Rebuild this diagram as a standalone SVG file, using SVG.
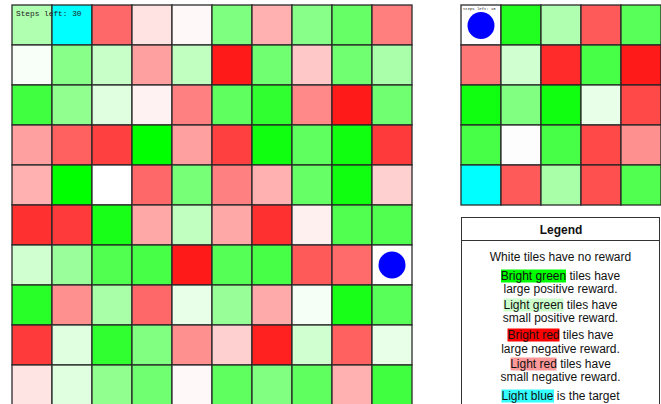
<svg xmlns="http://www.w3.org/2000/svg" width="661" height="404" viewBox="0 0 661 404">
<style>
.c{stroke:#262626;stroke-width:1.4;stroke-opacity:0.9}
.lg{font-family:"Liberation Sans",Arial,sans-serif;font-size:12px;fill:#111;text-anchor:middle}
.steps{font-family:"Liberation Mono","Courier New",monospace;fill:#222}
</style>
<rect width="661" height="404" fill="#fff"/>
<g id="main-grid">
<!-- row 0 -->
<rect class="c" x="12" y="5" width="40" height="40" fill="#b0ffb0"/>
<rect class="c" x="52" y="5" width="40" height="40" fill="#00ffff"/>
<rect class="c" x="92" y="5" width="40" height="40" fill="#ff6868"/>
<rect class="c" x="132" y="5" width="40" height="40" fill="#ffe2e2"/>
<rect class="c" x="172" y="5" width="40" height="40" fill="#fff8f8"/>
<rect class="c" x="212" y="5" width="40" height="40" fill="#7fff7f"/>
<rect class="c" x="252" y="5" width="40" height="40" fill="#ffb0b0"/>
<rect class="c" x="292" y="5" width="40" height="40" fill="#88ff88"/>
<rect class="c" x="332" y="5" width="40" height="40" fill="#66ff66"/>
<rect class="c" x="372" y="5" width="40" height="40" fill="#ff7f7f"/>
<!-- row 1 -->
<rect class="c" x="12" y="45" width="40" height="40" fill="#f8fff8"/>
<rect class="c" x="52" y="45" width="40" height="40" fill="#88ff88"/>
<rect class="c" x="92" y="45" width="40" height="40" fill="#c8ffc8"/>
<rect class="c" x="132" y="45" width="40" height="40" fill="#ffa0a0"/>
<rect class="c" x="172" y="45" width="40" height="40" fill="#c0ffc0"/>
<rect class="c" x="212" y="45" width="40" height="40" fill="#ff1a1a"/>
<rect class="c" x="252" y="45" width="40" height="40" fill="#70ff70"/>
<rect class="c" x="292" y="45" width="40" height="40" fill="#ffc8c8"/>
<rect class="c" x="332" y="45" width="40" height="40" fill="#70ff70"/>
<rect class="c" x="372" y="45" width="40" height="40" fill="#aaffaa"/>
<!-- row 2 -->
<rect class="c" x="12" y="85" width="40" height="40" fill="#40ff40"/>
<rect class="c" x="52" y="85" width="40" height="40" fill="#90ff90"/>
<rect class="c" x="92" y="85" width="40" height="40" fill="#e0ffe0"/>
<rect class="c" x="132" y="85" width="40" height="40" fill="#fff2f2"/>
<rect class="c" x="172" y="85" width="40" height="40" fill="#ff8080"/>
<rect class="c" x="212" y="85" width="40" height="40" fill="#60ff60"/>
<rect class="c" x="252" y="85" width="40" height="40" fill="#30ff30"/>
<rect class="c" x="292" y="85" width="40" height="40" fill="#ff8888"/>
<rect class="c" x="332" y="85" width="40" height="40" fill="#ff1a1a"/>
<rect class="c" x="372" y="85" width="40" height="40" fill="#70ff70"/>
<!-- row 3 -->
<rect class="c" x="12" y="125" width="40" height="40" fill="#ffa0a0"/>
<rect class="c" x="52" y="125" width="40" height="40" fill="#ff6060"/>
<rect class="c" x="92" y="125" width="40" height="40" fill="#ff4040"/>
<rect class="c" x="132" y="125" width="40" height="40" fill="#00ff00"/>
<rect class="c" x="172" y="125" width="40" height="40" fill="#ffa0a0"/>
<rect class="c" x="212" y="125" width="40" height="40" fill="#ff4040"/>
<rect class="c" x="252" y="125" width="40" height="40" fill="#10ff10"/>
<rect class="c" x="292" y="125" width="40" height="40" fill="#60ff60"/>
<rect class="c" x="332" y="125" width="40" height="40" fill="#10ff10"/>
<rect class="c" x="372" y="125" width="40" height="40" fill="#ff3a3a"/>
<!-- row 4 -->
<rect class="c" x="12" y="165" width="40" height="40" fill="#ffb0b0"/>
<rect class="c" x="52" y="165" width="40" height="40" fill="#00ff00"/>
<rect class="c" x="92" y="165" width="40" height="40" fill="#ffffff"/>
<rect class="c" x="132" y="165" width="40" height="40" fill="#ff6868"/>
<rect class="c" x="172" y="165" width="40" height="40" fill="#78ff78"/>
<rect class="c" x="212" y="165" width="40" height="40" fill="#ff8080"/>
<rect class="c" x="252" y="165" width="40" height="40" fill="#ffb0b0"/>
<rect class="c" x="292" y="165" width="40" height="40" fill="#66ff66"/>
<rect class="c" x="332" y="165" width="40" height="40" fill="#10ff10"/>
<rect class="c" x="372" y="165" width="40" height="40" fill="#ffd0d0"/>
<!-- row 5 -->
<rect class="c" x="12" y="205" width="40" height="40" fill="#ff3030"/>
<rect class="c" x="52" y="205" width="40" height="40" fill="#ff3a3a"/>
<rect class="c" x="92" y="205" width="40" height="40" fill="#18ff18"/>
<rect class="c" x="132" y="205" width="40" height="40" fill="#ffa8a8"/>
<rect class="c" x="172" y="205" width="40" height="40" fill="#c0ffc0"/>
<rect class="c" x="212" y="205" width="40" height="40" fill="#ffa8a8"/>
<rect class="c" x="252" y="205" width="40" height="40" fill="#ff3030"/>
<rect class="c" x="292" y="205" width="40" height="40" fill="#fff0f0"/>
<rect class="c" x="332" y="205" width="40" height="40" fill="#50ff50"/>
<rect class="c" x="372" y="205" width="40" height="40" fill="#50ff50"/>
<!-- row 6 -->
<rect class="c" x="12" y="245" width="40" height="40" fill="#d0ffd0"/>
<rect class="c" x="52" y="245" width="40" height="40" fill="#9aff9a"/>
<rect class="c" x="92" y="245" width="40" height="40" fill="#50ff50"/>
<rect class="c" x="132" y="245" width="40" height="40" fill="#48ff48"/>
<rect class="c" x="172" y="245" width="40" height="40" fill="#ff1a1a"/>
<rect class="c" x="212" y="245" width="40" height="40" fill="#55ff55"/>
<rect class="c" x="252" y="245" width="40" height="40" fill="#48ff48"/>
<rect class="c" x="292" y="245" width="40" height="40" fill="#ff5a5a"/>
<rect class="c" x="332" y="245" width="40" height="40" fill="#ff6a6a"/>
<rect class="c" x="372" y="245" width="40" height="40" fill="#ffffff"/>
<!-- row 7 -->
<rect class="c" x="12" y="285" width="40" height="40" fill="#28ff28"/>
<rect class="c" x="52" y="285" width="40" height="40" fill="#ff9090"/>
<rect class="c" x="92" y="285" width="40" height="40" fill="#a8ffa8"/>
<rect class="c" x="132" y="285" width="40" height="40" fill="#ff6868"/>
<rect class="c" x="172" y="285" width="40" height="40" fill="#e8ffe8"/>
<rect class="c" x="212" y="285" width="40" height="40" fill="#98ff98"/>
<rect class="c" x="252" y="285" width="40" height="40" fill="#ffaaaa"/>
<rect class="c" x="292" y="285" width="40" height="40" fill="#f5fff5"/>
<rect class="c" x="332" y="285" width="40" height="40" fill="#18ff18"/>
<rect class="c" x="372" y="285" width="40" height="40" fill="#58ff58"/>
<!-- row 8 -->
<rect class="c" x="12" y="325" width="40" height="40" fill="#ff3a3a"/>
<rect class="c" x="52" y="325" width="40" height="40" fill="#e0ffe0"/>
<rect class="c" x="92" y="325" width="40" height="40" fill="#30ff30"/>
<rect class="c" x="132" y="325" width="40" height="40" fill="#80ff80"/>
<rect class="c" x="172" y="325" width="40" height="40" fill="#ff9090"/>
<rect class="c" x="212" y="325" width="40" height="40" fill="#ffd0d0"/>
<rect class="c" x="252" y="325" width="40" height="40" fill="#ff2020"/>
<rect class="c" x="292" y="325" width="40" height="40" fill="#d0ffd0"/>
<rect class="c" x="332" y="325" width="40" height="40" fill="#ff6060"/>
<rect class="c" x="372" y="325" width="40" height="40" fill="#e8ffe8"/>
<!-- row 9 -->
<rect class="c" x="12" y="365" width="40" height="40" fill="#ffe4e4"/>
<rect class="c" x="52" y="365" width="40" height="40" fill="#e0ffe0"/>
<rect class="c" x="92" y="365" width="40" height="40" fill="#90ff90"/>
<rect class="c" x="132" y="365" width="40" height="40" fill="#70ff70"/>
<rect class="c" x="172" y="365" width="40" height="40" fill="#fff8f8"/>
<rect class="c" x="212" y="365" width="40" height="40" fill="#60ff60"/>
<rect class="c" x="252" y="365" width="40" height="40" fill="#80ff80"/>
<rect class="c" x="292" y="365" width="40" height="40" fill="#60ff60"/>
<rect class="c" x="332" y="365" width="40" height="40" fill="#ffb0b0"/>
<rect class="c" x="372" y="365" width="40" height="40" fill="#40ff40"/>
<circle cx="392" cy="265" r="13.5" fill="#0000ff"/>
<text class="steps" x="16" y="15.5" font-size="7.8">Steps left: 30</text>
</g>
<g id="small-grid">
<rect class="c" x="461" y="5" width="40" height="40" fill="#ffffff"/>
<rect class="c" x="501" y="5" width="40" height="40" fill="#20ff20"/>
<rect class="c" x="541" y="5" width="40" height="40" fill="#b0ffb0"/>
<rect class="c" x="581" y="5" width="40" height="40" fill="#ff5a5a"/>
<rect class="c" x="621" y="5" width="40" height="40" fill="#58ff58"/>
<rect class="c" x="461" y="45" width="40" height="40" fill="#ff7777"/>
<rect class="c" x="501" y="45" width="40" height="40" fill="#d0ffd0"/>
<rect class="c" x="541" y="45" width="40" height="40" fill="#ff2a2a"/>
<rect class="c" x="581" y="45" width="40" height="40" fill="#48ff48"/>
<rect class="c" x="621" y="45" width="40" height="40" fill="#ff1a1a"/>
<rect class="c" x="461" y="85" width="40" height="40" fill="#10ff10"/>
<rect class="c" x="501" y="85" width="40" height="40" fill="#80ff80"/>
<rect class="c" x="541" y="85" width="40" height="40" fill="#10ff10"/>
<rect class="c" x="581" y="85" width="40" height="40" fill="#e8ffe8"/>
<rect class="c" x="621" y="85" width="40" height="40" fill="#ff4848"/>
<rect class="c" x="461" y="125" width="40" height="40" fill="#48ff48"/>
<rect class="c" x="501" y="125" width="40" height="40" fill="#fdfdfd"/>
<rect class="c" x="541" y="125" width="40" height="40" fill="#48ff48"/>
<rect class="c" x="581" y="125" width="40" height="40" fill="#ff4848"/>
<rect class="c" x="621" y="125" width="40" height="40" fill="#ff9090"/>
<rect class="c" x="461" y="165" width="40" height="40" fill="#00ffff"/>
<rect class="c" x="501" y="165" width="40" height="40" fill="#ff5a5a"/>
<rect class="c" x="541" y="165" width="40" height="40" fill="#a8ffa8"/>
<rect class="c" x="581" y="165" width="40" height="40" fill="#ff5050"/>
<rect class="c" x="621" y="165" width="40" height="40" fill="#50ff50"/>
<circle cx="481" cy="25.5" r="13.5" fill="#0000ff"/>
<text class="steps" x="463" y="9.5" font-size="3.9">Steps left: 15</text>
</g>
<g id="legend">
<rect x="461.5" y="217.5" width="198" height="200" fill="#fff" stroke="#333" stroke-width="1"/>
<line x1="461.5" y1="240.5" x2="659.5" y2="240.5" stroke="#333" stroke-width="1"/>
<text class="lg" x="561" y="234" font-weight="bold">Legend</text>
<text class="lg" x="560.5" y="260.5">White tiles have no reward</text>
<rect x="501" y="269.5" width="65" height="13" fill="#00ff00"/>
<text class="lg" x="560.5" y="280">Bright green tiles have</text>
<text class="lg" x="560.5" y="292.5">large positive reward.</text>
<rect x="503.5" y="298.5" width="60" height="13" fill="#ccffcc"/>
<text class="lg" x="560.5" y="308.5">Light green tiles have</text>
<text class="lg" x="560.5" y="322">small positive reward.</text>
<rect x="507.5" y="328.5" width="52" height="13" fill="#ff0000"/>
<text class="lg" x="560.5" y="339">Bright red tiles have</text>
<text class="lg" x="560.5" y="352.5">large negative reward.</text>
<rect x="510.5" y="357.5" width="46" height="13" fill="#ff9999"/>
<text class="lg" x="560.5" y="367.5">Light red tiles have</text>
<text class="lg" x="560.5" y="381">small negative reward.</text>
<rect x="501.5" y="389.5" width="52.5" height="13" fill="#33ffff"/>
<text class="lg" x="560.5" y="399.5">Light blue is the target</text>
</g>
</svg>
